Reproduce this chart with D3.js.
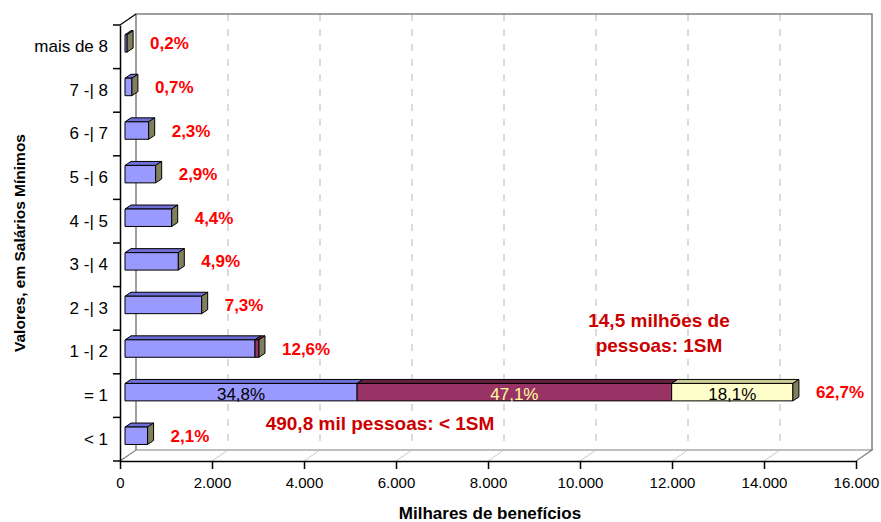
<html>
<head>
<script src="https://d3js.org/d3.v7.min.js"></script>
</head>
<style>
body { margin:0; background:#fff; }
text { font-family: Arial, "Liberation Sans", sans-serif; }
</style>
<body>
<script>

var width = 881;
var height = 522;

// salary bands, top to bottom
var categories = ["mais de 8", "7 -| 8", "6 -| 7", "5 -| 6", "4 -| 5", "3 -| 4", "2 -| 3", "1 -| 2", "= 1", "< 1"];
// thousands of benefits, by series
var blueVals   = [46, 150, 515, 667, 1015, 1159, 1667, 2826, 5046, 491];
var maroonVals = [0, 0, 0, 0, 0, 0, 0, 87, 6838, 0];
var yellowVals = [0, 0, 0, 0, 0, 0, 0, 0, 2636, 0];
var pctLabels  = ["0,2%", "0,7%", "2,3%", "2,9%", "4,4%", "4,9%", "7,3%", "12,6%", "62,7%", "2,1%"];
var segLabels  = ["34,8%", "47,1%", "18,1%"];   // inside the "= 1" bar
var xTicks = [0, 2000, 4000, 6000, 8000, 10000, 12000, 14000, 16000];

var keys = ["blue", "maroon", "yellow"];
var front = {blue:"#9999FF", maroon:"#993366", yellow:"#FFFFCC"};
var topc  = {blue:"#6E6ED6", maroon:"#66213F", yellow:"#CCCC99"};
var sideColor = "#80805F";

var table = categories.map(function(c, i) {
  return {cat:c, blue:blueVals[i], maroon:maroonVals[i], yellow:yellowVals[i]};
});

// 3d depth of the plot box and of the bars
var DX = 16, DY = -11;
var bx0 = 5, by0 = -3.44, bdx = 6, bdy = -4;

var x = d3.scaleLinear().domain([0, 16000]).range([120, 856]);
var y = d3.scaleBand().domain(categories).range([25, 461]);

var svg = d3.select("body").append("svg")
    .attr("width", width)
    .attr("height", height);

var x0 = x(0), x1 = x(16000), yTop = 25, yBot = 461;

// back wall
svg.append("rect")
  .attr("x", x0 + DX).attr("y", yTop + DY)
  .attr("width", x1 - x0).attr("height", yBot - yTop)
  .attr("fill", "#fff");

svg.append("g").selectAll("line")
  .data(xTicks.slice(1, -1))
  .enter().append("line")
    .attr("x1", function(d) { return x(d) + DX; })
    .attr("x2", function(d) { return x(d) + DX; })
    .attr("y1", yTop + DY).attr("y2", yBot + DY)
    .attr("stroke", "#b8b8b8")
    .attr("stroke-dasharray", "7,8");

var edge = "#808080";
svg.append("path")
  .attr("d", "M" + (x0 + DX) + "," + (yBot + DY) + "V" + (yTop + DY) + "H" + (x1 + DX) + "V" + (yBot + DY))
  .attr("fill", "none").attr("stroke", edge).attr("stroke-width", 1.5);

// floor
svg.append("path")
  .attr("d", "M" + x0 + "," + yBot + "L" + (x0 + DX) + "," + (yBot + DY) + "H" + (x1 + DX) + "L" + x1 + "," + yBot)
  .attr("fill", "none").attr("stroke", edge).attr("stroke-width", 1.2);

svg.append("g").selectAll("line")
  .data(xTicks.slice(1, -1))
  .enter().append("line")
    .attr("x1", function(d) { return x(d); })
    .attr("x2", function(d) { return x(d) + DX; })
    .attr("y1", yBot).attr("y2", yBot + DY)
    .attr("stroke", "#c8c8c8");

// left wall top edge
svg.append("line")
  .attr("x1", x0).attr("y1", yTop).attr("x2", x0 + DX).attr("y2", yTop + DY)
  .attr("stroke", "#000").attr("stroke-width", 1.2);

// bars
var series = d3.stack().keys(keys)(table);
var h = y.bandwidth() * 0.4;

function faceY(c) { return y(c) + y.bandwidth() / 2 + by0 - h / 2; }

var bars = svg.append("g").attr("stroke", "#000").attr("stroke-width", 1).attr("stroke-linejoin", "round");

series.forEach(function(s) {
  s.forEach(function(d) {
    if (d[1] <= d[0]) return;
    var xa = x(d[0]) + bx0, xb = x(d[1]) + bx0, t = faceY(d.data.cat);
    bars.append("path")
      .attr("d", "M" + xa + "," + t + "L" + (xa + bdx) + "," + (t + bdy) + "H" + (xb + bdx) + "L" + xb + "," + t + "Z")
      .attr("fill", topc[s.key]);
    bars.append("rect")
      .attr("x", xa).attr("y", t)
      .attr("width", xb - xa).attr("height", h)
      .attr("fill", front[s.key]);
  });
});

table.forEach(function(d) {
  var tot = d.blue + d.maroon + d.yellow;
  var xe = x(tot) + bx0, t = faceY(d.cat);
  bars.append("path")
    .attr("d", "M" + xe + "," + t + "L" + (xe + bdx) + "," + (t + bdy) + "V" + (t + bdy + h) + "L" + xe + "," + (t + h) + "Z")
    .attr("fill", sideColor);
});

// percentage labels
svg.append("g").selectAll("text")
  .data(table)
  .enter().append("text")
    .attr("x", function(d) { return x(d.blue + d.maroon + d.yellow) + bx0 + 23; })
    .attr("y", function(d) { return faceY(d.cat) + h / 2 + 6; })
    .attr("fill", "#FF0000")
    .attr("font-weight", "bold")
    .attr("font-size", 17)
    .text(function(d, i) { return pctLabels[i]; });

// labels inside the "= 1" bar
var segColors = ["#000", "#FFFF99", "#000"];
svg.append("g").selectAll("text")
  .data(series)
  .enter().append("text")
    .attr("x", function(s) { var d = s[8]; return (x(d[0]) + x(d[1])) / 2 + bx0; })
    .attr("y", faceY("= 1") + h - 0.5)
    .attr("text-anchor", "middle")
    .attr("font-size", 17)
    .attr("fill", function(s, i) { return segColors[i]; })
    .text(function(s, i) { return segLabels[i]; });

// x axis
var fmt = d3.formatLocale({decimal:",", thousands:".", grouping:[3], currency:["R$",""]}).format(",");
var xAxis = svg.append("g")
  .attr("transform", "translate(0," + yBot + ")")
  .call(d3.axisBottom(x).tickValues(xTicks).tickFormat(fmt).tickSize(8).tickSizeOuter(0).tickPadding(8));
xAxis.select(".domain").attr("stroke", "#000").attr("stroke-width", 1.5);
xAxis.selectAll("line").attr("stroke", "#000").attr("stroke-width", 1.5);
xAxis.selectAll("text").attr("font-size", 15).attr("fill", "#000")
  .attr("font-family", "Arial, 'Liberation Sans', sans-serif");

// y axis
var yAxis = svg.append("g")
  .attr("transform", "translate(" + x0 + ",0)")
  .call(d3.axisLeft(y).tickSize(0).tickPadding(12));
yAxis.select(".domain").attr("stroke", "#000").attr("stroke-width", 1.5);
yAxis.selectAll("text").attr("font-size", 17).attr("fill", "#000")
  .attr("font-family", "Arial, 'Liberation Sans', sans-serif");

yAxis.selectAll(".bound")
  .data(d3.range(categories.length + 1))
  .enter().append("line")
    .attr("class", "bound")
    .attr("x1", -7).attr("x2", 0)
    .attr("y1", function(i) { return y.range()[0] + i * y.step(); })
    .attr("y2", function(i) { return y.range()[0] + i * y.step(); })
    .attr("stroke", "#000").attr("stroke-width", 1.5);

// axis titles
svg.append("text")
  .attr("x", (x0 + x1) / 2 + 2).attr("y", 519)
  .attr("text-anchor", "middle")
  .attr("font-weight", "bold")
  .attr("font-size", 17)
  .text("Milhares de benefícios");

svg.append("text")
  .attr("transform", "translate(25," + ((yTop + yBot) / 2) + ") rotate(-90)")
  .attr("text-anchor", "middle")
  .attr("font-weight", "bold")
  .attr("font-size", 15.5)
  .text("Valores, em Salários Mínimos");

// annotations
var note = svg.append("g")
  .attr("fill", "#CC0000")
  .attr("font-weight", "bold")
  .attr("font-size", 19)
  .attr("text-anchor", "middle");

note.append("text").attr("x", 659).attr("y", 327).text("14,5 milhões de");
note.append("text").attr("x", 659).attr("y", 352).text("pessoas: 1SM");
note.append("text").attr("x", 380).attr("y", 430).text("490,8 mil pessoas: < 1SM");

</script>
</body>
</html>
